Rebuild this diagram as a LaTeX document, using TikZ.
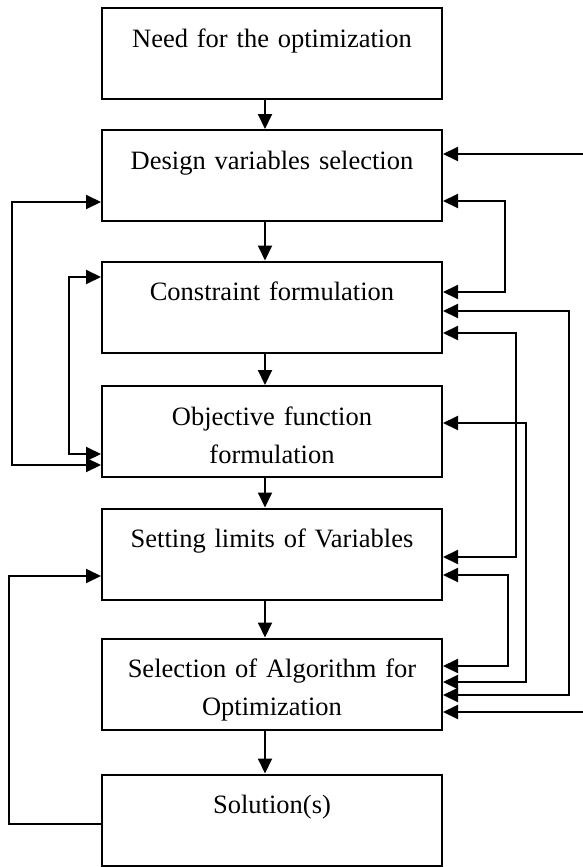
\documentclass[tikz,border=0pt]{standalone}
\usepackage{fontspec}
\setmainfont{Liberation Serif}
\usetikzlibrary{arrows.meta,calc}
\newcommand{\tallstrut}{\rule{0pt}{36.6pt}}

\begin{document}
\begin{tikzpicture}[x=1pt,y=-1pt,line width=2pt,
  >={Triangle[length=15pt,width=14pt]},
  stage/.style={shape=rectangle,draw,minimum width=340pt,minimum height=91pt,
    text width=340pt,inner sep=0pt,align=center,font=\fontsize{26.5}{38}\selectfont}]
\useasboundingbox (0,0) rectangle (583,867);
%[boxes]
\path (272,53.5) node (need) [stage] {\tallstrut Need for the optimization\\ \strut};
\path (272,175.5) node (design) [stage] {\tallstrut Design variables selection\\ \strut};
\path (272,307) node (constr) [stage] {\tallstrut Constraint formulation\\ \strut};
\path (272,431.5) node (objfn) [stage] {\tallstrut Objective function\\ \strut formulation};
\path (272,554) node (limits) [stage] {\tallstrut Setting limits of Variables\\ \strut};
\path (272,684) node (algo) [stage] {\tallstrut Selection of Algorithm for\\ \strut Optimization};
\path (272,820) node (sol) [stage] {\tallstrut Solution(s)\\ \strut};
\path (583,154) coordinate (inA);
\path (583,712) coordinate (inB);

\draw [->] ($(need.south)+(-7,0)$) to ($(design.north)+(-7,0)$);
\draw [->] ($(design.south)+(-7,0)$) to ($(constr.north)+(-7,0)$);
\draw [->] ($(constr.south)+(-7,0)$) to ($(objfn.north)+(-7,0)$);
\draw [->] ($(objfn.south)+(-7,0)$) to ($(limits.north)+(-7,0)$);
\draw [->] ($(limits.south)+(-7,0)$) to ($(algo.north)+(-7,0)$);
\draw [->] ($(algo.south)+(-7,0)$) to ($(sol.north)+(-7,0)$);

%[left loops]
\draw [<->] (design.west |- 0,202) -- ++(-89,0) |- (objfn.west |- 0,465);
\draw [<->] (constr.west |- 0,277) -- ++(-32,0) |- (objfn.west |- 0,454);
\draw [->] (sol.west |- 0,824) -- ++(-92,0) |- (limits.west |- 0,576);

%[right loops]
\draw [->] (inA) to (design.east |- inA);
\draw [<->] (design.east |- 0,201) -- ++(62,0) |- (constr.east |- 0,292);
\draw [<->] (constr.east |- 0,311) -- ++(126,0) |- (algo.east |- 0,695);
\draw [<->] (constr.east |- 0,333) -- ++(73,0) |- (limits.east |- 0,557);
\draw [<->] (objfn.east |- 0,423) -- ++(83,0) |- (algo.east |- 0,682);
\draw [<->] (limits.east |- 0,575) -- ++(65,0) |- (algo.east |- 0,666);
\draw [->] (inB) to (algo.east |- inB);
\end{tikzpicture}
\end{document}
